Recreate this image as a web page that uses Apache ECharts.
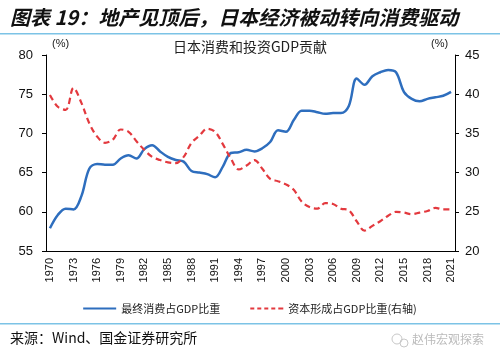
<!DOCTYPE html>
<html>
<head>
<meta charset="utf-8">
<script src="https://cdn.jsdelivr.net/npm/echarts@6/dist/echarts.min.js"></script>
<style>
html,body{margin:0;padding:0;background:#fff;}
#c{width:500px;height:360px;}
</style>
</head>
<body>
<div id="c"></div>
<script>
var years = [];
for (var y = 1970; y <= 2021; y++) years.push(String(y));

var consumption = [57.9,59.6,60.4,60.3,62.0,65.5,66.1,66.0,66.0,66.8,
  67.2,66.8,68.0,68.5,67.7,67.0,66.6,66.4,65.2,65.0,
  64.8,64.4,65.8,67.5,67.6,67.9,67.7,68.1,68.9,70.4,
  70.2,71.7,72.9,72.9,72.7,72.5,72.6,72.6,73.5,77.0,
  76.2,77.3,77.8,78.1,77.8,75.3,74.4,74.1,74.4,74.6,
  74.8,75.3];

var capital = [39.9,38.4,38.0,40.8,38.9,36.3,34.6,33.8,34.2,35.5,
  35.2,34.0,32.9,32.0,31.6,31.3,31.2,32.0,33.8,34.7,
  35.6,35.2,33.6,31.8,30.4,30.9,31.6,30.5,29.2,28.9,
  28.5,27.8,26.3,25.6,25.4,26.1,26.0,25.4,25.2,23.8,
  22.6,23.2,23.8,24.5,25.0,24.9,24.7,24.9,25.1,25.5,
  25.3,25.3];

var seriesNames = ['最终消费占GDP比重', '资本形成占GDP比重(右轴)'];
var leftTicks = {min: 55, max: 80, interval: 5};
var rightTicks = {min: 20, max: 45, interval: 5};

var BLUE = '#2E6EBE', RED = '#E3393E';
var sans = 'Liberation Sans, Arial, Noto Sans CJK SC, sans-serif';
var cjk = 'Noto Sans CJK SC, sans-serif';

var chart = echarts.init(document.getElementById('c'), null, {renderer: 'canvas'});
chart.setOption({
  animation: false,
  backgroundColor: '#fff',
  grid: {left: 46, right: 45, top: 55, bottom: 109},
  legend: {
    top: 298, left: 'center',
    itemWidth: 33, itemHeight: 10, itemGap: 30,
    textStyle: {fontFamily: cjk, fontSize: 11, color: '#222'},
    data: [
      {name: seriesNames[0], icon: 'path://M0,4 L33,4 L33,6 L0,6 Z', itemStyle: {color: BLUE}},
      {name: seriesNames[1], icon: 'path://M0,4h4v2h-4z M7,4h4v2h-4z M14,4h4v2h-4z M21,4h4v2h-4z M28,4h5v2h-5z', itemStyle: {color: RED}}
    ]
  },
  xAxis: {
    type: 'category',
    data: years,
    boundaryGap: true,
    axisLine: {lineStyle: {color: '#000', width: 1}},
    axisTick: {interval: 2, length: 5, lineStyle: {color: '#000'}},
    axisLabel: {interval: 2, rotate: 90, margin: 7, fontSize: 11, fontFamily: sans, color: '#111'}
  },
  yAxis: [
    {
      type: 'value', min: leftTicks.min, max: leftTicks.max, interval: leftTicks.interval,
      splitLine: {show: false},
      axisLine: {show: true, lineStyle: {color: '#000'}},
      axisTick: {show: true, length: 4, lineStyle: {color: '#000'}},
      axisLabel: {margin: 13, fontSize: 13, fontFamily: sans, color: '#111'}
    },
    {
      type: 'value', min: rightTicks.min, max: rightTicks.max, interval: rightTicks.interval,
      position: 'right',
      splitLine: {show: false},
      axisLine: {show: true, lineStyle: {color: '#000'}},
      axisTick: {show: true, length: 4, lineStyle: {color: '#000'}},
      axisLabel: {margin: 10, fontSize: 13, fontFamily: sans, color: '#111'}
    }
  ],
  series: [
    {
      name: seriesNames[0], type: 'line', data: consumption, yAxisIndex: 0,
      smooth: 0.35, showSymbol: false, symbol: 'none',
      lineStyle: {color: BLUE, width: 2.5}, itemStyle: {color: BLUE}
    },
    {
      name: seriesNames[1], type: 'line', data: capital, yAxisIndex: 1,
      smooth: 0.35, showSymbol: false, symbol: 'none',
      lineStyle: {color: RED, width: 2.2, type: [6, 4]}, itemStyle: {color: RED}
    }
  ],
  graphic: [
    {type: 'text', left: 10, top: 7, style: {text: '图表 19：地产见顶后，日本经济被动转向消费驱动', font: 'italic bold 20px ' + cjk, fill: '#111'}},
    {type: 'rect', shape: {x: 0, y: 33, width: 500, height: 1.5}, style: {fill: '#7CC3E6'}},
    {type: 'text', left: 'center', top: 40, style: {text: '日本消费和投资GDP贡献', font: '14px ' + cjk, fill: '#222'}},
    {type: 'text', left: 52, top: 38, style: {text: '(%)', font: '11px ' + sans, fill: '#222'}},
    {type: 'text', left: 431, top: 38, style: {text: '(%)', font: '11px ' + sans, fill: '#222'}},
    {type: 'rect', shape: {x: 0, y: 323, width: 500, height: 1.5}, style: {fill: '#7CC3E6'}},
    {type: 'text', left: 10, top: 331, style: {text: '来源：Wind、国金证券研究所', font: '14px ' + cjk, fill: '#111'}},
    {type: 'circle', shape: {cx: 397, cy: 339, r: 5}, style: {fill: 'none', stroke: '#c8c8c8', lineWidth: 1}},
    {type: 'circle', shape: {cx: 404, cy: 343, r: 4}, style: {fill: 'none', stroke: '#c8c8c8', lineWidth: 1}},
    {type: 'text', left: 412, top: 333, style: {text: '赵伟宏观探索', font: '12px ' + cjk, fill: '#bbbbbb'}}
  ]
});
</script>
</body>
</html>
